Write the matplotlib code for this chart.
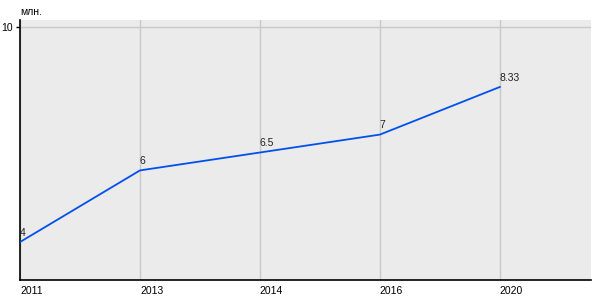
import matplotlib
matplotlib.use('Agg')
import matplotlib.pyplot as plt

# данные
years = ['2011', '2013', '2014', '2016', '2020']
values = [4, 6, 6.5, 7, 8.33]
value_labels = ['4', '6', '6.5', '7', '8.33']

plt.rcParams['font.family'] = ['Liberation Sans', 'DejaVu Sans']

fig = plt.figure(figsize=(6, 3), dpi=100)
ax = fig.add_axes([20 / 600, 20 / 300, 571 / 600, 260 / 300])
ax.set_facecolor('#ebebeb')

x = list(range(len(years)))
ax.plot(x, values, color='#0050f0', linewidth=1.3, zorder=3)

for xi, v, lab in zip(x, values, value_labels):
    ax.annotate(lab, (xi, v), xytext=(0, 3), textcoords='offset points',
                ha='left', va='bottom', fontsize=7.5, color='#222222')

ax.set_xlim(0, 4.76)
ax.set_ylim(2.94, 10.2)

ax.set_xticks(x)
ax.set_xticklabels(years, ha='left', fontsize=7.5)
ax.set_yticks([10])
ax.set_yticklabels(['10'], fontsize=7.5)
ax.tick_params(axis='x', length=0, pad=4)
ax.tick_params(axis='y', length=3, width=1, pad=2)

ax.grid(True, color='#c8c8c8', linewidth=1)
ax.set_axisbelow(True)

for s in ['top', 'right']:
    ax.spines[s].set_visible(False)
for s in ['left', 'bottom']:
    ax.spines[s].set_color('black')
    ax.spines[s].set_linewidth(1.2)

fig.text(20 / 600, 1 - 12 / 300, 'млн.', fontsize=7.5, va='center', ha='left')

fig.savefig('out.png', dpi=100)
